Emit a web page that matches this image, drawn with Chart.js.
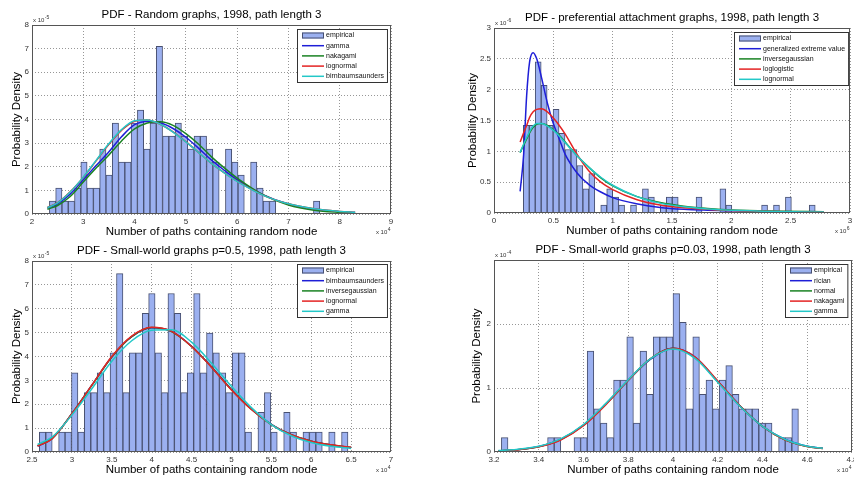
<!DOCTYPE html>
<html>
<head>
<meta charset="utf-8">
<script src="https://cdn.jsdelivr.net/npm/chart.js@4.4.0/dist/chart.umd.min.js"></script>
<style>
  html, body { margin: 0; padding: 0; background: #fff; }
  #wrap { position: relative; width: 854px; height: 479px; overflow: hidden; }
  canvas { position: absolute; }
</style>
</head>
<body>
<div id="wrap">
  <canvas id="c1" width="427" height="240" style="left:0;top:0"></canvas>
  <canvas id="c2" width="427" height="240" style="left:427px;top:0"></canvas>
  <canvas id="c3" width="427" height="239" style="left:0;top:240px"></canvas>
  <canvas id="c4" width="427" height="239" style="left:427px;top:240px"></canvas>
</div>
<script>
// ---- panel 1: random graphs (x in 1e4, density in 1e-5)
const p1BinStart = 2.339, p1BinWidth = 0.1226;
const p1Counts = [0.55, 1.1, 0.55, 0.55, 1.1, 2.2, 1.1, 1.1, 2.75, 1.65, 3.85, 2.2, 2.2, 3.85, 4.4, 2.75,
  3.85, 7.1, 3.3, 3.3, 3.85, 3.3, 2.75, 3.3, 3.3, 2.75, 2.2, 0, 2.75, 2.2, 1.65, 0, 2.2, 1.1, 0.55, 0.55,
  0, 0, 0, 0, 0, 0, 0.55];
const p1CurveX = [2.3, 2.5, 2.75, 3, 3.25, 3.5, 3.75, 4, 4.25, 4.5, 4.75, 5, 5.25, 5.5, 5.75, 6, 6.5, 7, 7.5, 8, 8.3];
const p1Gamma = [0.25, 0.43, 0.85, 1.45, 2.05, 2.64, 3.28, 3.78, 3.92, 3.86, 3.62, 3.25, 2.78, 2.28, 1.85, 1.45, 0.82, 0.42, 0.2, 0.1, 0.06];
const p1Nakagami = [0.2, 0.36, 0.75, 1.35, 1.95, 2.5, 3.1, 3.6, 3.85, 3.9, 3.75, 3.4, 2.95, 2.42, 1.95, 1.52, 0.82, 0.38, 0.16, 0.07, 0.04];
const p1Lognormal = [0.28, 0.48, 0.95, 1.55, 2.25, 2.95, 3.55, 3.93, 3.98, 3.8, 3.48, 3.06, 2.6, 2.14, 1.74, 1.39, 0.8, 0.43, 0.22, 0.11, 0.07];
const p1Birnbaum = [0.27, 0.47, 0.94, 1.56, 2.27, 2.98, 3.58, 3.95, 3.98, 3.8, 3.47, 3.05, 2.6, 2.14, 1.74, 1.38, 0.8, 0.43, 0.22, 0.11, 0.07];

// ---- panel 2: preferential attachment (x in 1e6, density in 1e-6)
const p2BinStart = 0.247, p2BinWidth = 0.0502;
const p2Counts = [1.42, 1.42, 2.45, 2.07, 1.42, 1.68, 1.29, 1.03, 1.03, 0.77, 0.39, 0.64, 0, 0.13, 0.39, 0.26,
  0.13, 0, 0.13, 0, 0.39, 0.26, 0, 0.13, 0.26, 0.26, 0, 0, 0, 0.26, 0, 0, 0, 0.39, 0.13, 0, 0, 0, 0, 0,
  0.13, 0, 0.13, 0, 0.26, 0, 0, 0, 0.13];
const p2CurveX = [0.22, 0.25, 0.275, 0.3, 0.33, 0.36, 0.4, 0.45, 0.5, 0.55, 0.6, 0.7, 0.8, 0.9, 1.0, 1.2, 1.4, 1.6, 1.8, 2.0, 2.4, 2.78];
const p2Gev = [0.35, 0.95, 1.9, 2.45, 2.6, 2.5, 2.2, 1.78, 1.45, 1.2, 0.95, 0.65, 0.46, 0.34, 0.25, 0.15, 0.09, 0.06, 0.045, 0.035, 0.022, 0.015];
const p2InvGauss = [0.98, 1.1, 1.2, 1.3, 1.39, 1.44, 1.45, 1.42, 1.35, 1.26, 1.15, 0.93, 0.74, 0.57, 0.44, 0.27, 0.17, 0.11, 0.075, 0.05, 0.03, 0.02];
const p2LogLogistic = [1.15, 1.3, 1.42, 1.55, 1.64, 1.68, 1.69, 1.64, 1.54, 1.42, 1.28, 0.95, 0.68, 0.5, 0.38, 0.22, 0.13, 0.085, 0.06, 0.04, 0.025, 0.015];
const p2Lognormal = [0.98, 1.12, 1.22, 1.32, 1.41, 1.45, 1.45, 1.41, 1.34, 1.25, 1.14, 0.93, 0.74, 0.58, 0.45, 0.27, 0.16, 0.1, 0.065, 0.045, 0.025, 0.015];

// ---- panel 3: small-world p=0.5 (x in 1e4, density in 1e-5)
const p3BinStart = 2.592, p3BinWidth = 0.0806;
const p3Counts = [0.83, 0.83, 0, 0.83, 0.83, 3.32, 0.83, 2.49, 2.49, 3.32, 2.49, 4.15, 7.47, 2.49, 4.15, 4.15,
  5.81, 6.64, 4.15, 2.49, 6.64, 5.81, 2.49, 3.32, 6.64, 3.32, 4.98, 4.15, 3.32, 2.49, 4.15, 4.15, 0.83, 0,
  1.66, 2.49, 0.83, 0, 1.66, 0.83, 0, 0.83, 0.83, 0.83, 0, 0.83, 0, 0.83];
const p3CurveX = [2.57, 2.75, 3.0, 3.25, 3.5, 3.75, 4.0, 4.25, 4.5, 4.75, 5.0, 5.25, 5.5, 5.75, 6.0, 6.25, 6.5];
const p3Birnbaum = [0.25, 0.56, 1.6, 2.8, 3.98, 4.83, 5.2, 5.05, 4.43, 3.56, 2.62, 1.8, 1.16, 0.72, 0.45, 0.29, 0.19];
const p3InvGauss = [0.26, 0.56, 1.6, 2.79, 3.98, 4.83, 5.21, 5.04, 4.42, 3.56, 2.61, 1.79, 1.15, 0.72, 0.45, 0.29, 0.19];
const p3Lognormal = [0.25, 0.55, 1.6, 2.8, 4.0, 4.85, 5.22, 5.05, 4.42, 3.55, 2.6, 1.78, 1.15, 0.72, 0.45, 0.3, 0.2];
const p3Gamma = [0.32, 0.62, 1.55, 2.65, 3.8, 4.66, 5.1, 5.12, 4.6, 3.72, 2.75, 1.86, 1.15, 0.68, 0.4, 0.24, 0.15];

// ---- panel 4: small-world p=0.03 (x in 1e4, density in 1e-4)
const p4BinStart = 3.233, p4BinWidth = 0.0295;
const p4Counts = [0.225, 0, 0, 0, 0, 0, 0, 0.225, 0.225, 0, 0, 0.225, 0.225, 1.575, 0.675, 0.45, 0.225, 1.125,
  1.125, 1.8, 0.45, 1.575, 0.9, 1.8, 1.8, 1.8, 2.475, 2.025, 0.675, 1.8, 0.9, 1.125, 0.675, 1.125, 1.35, 0.9,
  0.675, 0.675, 0.675, 0.45, 0.45, 0, 0.225, 0.225, 0.675];
const p4CurveX = [3.22, 3.3, 3.4, 3.5, 3.6, 3.7, 3.8, 3.9, 4.0, 4.1, 4.2, 4.3, 4.4, 4.5, 4.6, 4.67];
const p4Rician = [0.02, 0.035, 0.085, 0.2, 0.42, 0.75, 1.12, 1.45, 1.62, 1.48, 1.1, 0.72, 0.4, 0.2, 0.09, 0.06];
const p4Normal = [0.02, 0.034, 0.083, 0.2, 0.42, 0.75, 1.12, 1.46, 1.62, 1.47, 1.1, 0.72, 0.4, 0.19, 0.085, 0.055];
const p4Nakagami = [0.018, 0.032, 0.08, 0.19, 0.41, 0.74, 1.12, 1.46, 1.62, 1.48, 1.11, 0.72, 0.4, 0.19, 0.085, 0.055];
const p4Gamma = [0.025, 0.04, 0.09, 0.21, 0.43, 0.76, 1.13, 1.46, 1.61, 1.46, 1.09, 0.71, 0.4, 0.2, 0.09, 0.06];

const FONT = "'Liberation Sans', Arial, sans-serif";
const BAR_FILL = 'rgb(155,176,240)';
const BAR_EDGE = 'rgb(72,80,112)';
const BLUE = 'rgb(30,30,215)', GREEN = 'rgb(25,130,35)', RED = 'rgb(228,35,35)', CYAN = 'rgb(35,200,200)';
const GRID = 'rgba(140,140,140,0.9)';
const TICK = '#333';

// matlab style tick text: 1 not 1.0
const plain = v => String(Number(Number(v).toFixed(3)));

// superscript "x 10^n" note
function power(ctx, x, y, align, exp) {
  ctx.font = `6px ${FONT}`;
  const w1 = ctx.measureText('x 10').width;
  ctx.font = `5px ${FONT}`;
  const w2 = ctx.measureText(exp).width;
  const x0 = align === 'right' ? x - w1 - w2 - 1 : x;
  ctx.textAlign = 'left';
  ctx.textBaseline = 'alphabetic';
  ctx.fillStyle = '#333';
  ctx.font = `6px ${FONT}`;
  ctx.fillText('x 10', x0, y);
  ctx.font = `5px ${FONT}`;
  ctx.fillText(exp, x0 + w1 + 0.5, y - 3);
}

// box, titles, labels and legend in matlab style
const decor = {
  id: 'decor',
  afterDraw(chart, args, o) {
    const { ctx, chartArea: a } = chart;
    const cx = (a.left + a.right) / 2;
    ctx.save();
    ctx.setLineDash([]);
    ctx.strokeStyle = '#555';
    ctx.lineWidth = 1;
    ctx.strokeRect(Math.round(a.left) + 0.5, Math.round(a.top) + 0.5,
      Math.round(a.right - a.left) - 1, Math.round(a.bottom - a.top) - 1);

    ctx.fillStyle = '#000';
    ctx.textAlign = 'center';
    ctx.textBaseline = 'middle';
    ctx.font = `11.5px ${FONT}`;
    ctx.fillText(o.title, cx, a.top - 10);
    ctx.fillText('Number of paths containing random node', cx, a.bottom + 18);
    ctx.save();
    ctx.translate(a.left - o.ylabelDx, (a.top + a.bottom) / 2);
    ctx.rotate(-Math.PI / 2);
    ctx.fillText('Probability Density', 0, 0);
    ctx.restore();

    power(ctx, a.left + 1, a.top - 3, 'left', o.yExp);
    power(ctx, a.right, a.bottom + 20, 'right', o.xExp);

    // legend
    const items = chart.data.datasets;
    ctx.font = `7px ${FONT}`;
    const tw = Math.max(...items.map(d => ctx.measureText(d.label).width));
    const w = Math.max(o.legend.w, 32 + tw);
    const h = 53;
    const x0 = Math.round(a.right - o.legend.dx - w), y0 = Math.round(a.top + o.legend.dy);
    ctx.fillStyle = '#fff';
    ctx.fillRect(x0, y0, w, h);
    ctx.strokeStyle = '#333';
    ctx.strokeRect(x0 + 0.5, y0 + 0.5, w, h);
    items.forEach((d, i) => {
      const cy = y0 + 6.5 + i * 10.2;
      if (d.type === 'bar') {
        ctx.fillStyle = BAR_FILL;
        ctx.fillRect(x0 + 5, cy - 3, 22, 6);
        ctx.strokeStyle = BAR_EDGE;
        ctx.strokeRect(x0 + 5.5, cy - 2.5, 21, 5);
      } else {
        ctx.strokeStyle = d.borderColor;
        ctx.lineWidth = 1.5;
        ctx.beginPath();
        ctx.moveTo(x0 + 5, cy);
        ctx.lineTo(x0 + 27, cy);
        ctx.stroke();
        ctx.lineWidth = 1;
      }
      ctx.fillStyle = '#111';
      ctx.textAlign = 'left';
      ctx.textBaseline = 'middle';
      ctx.fillText(d.label, x0 + 29, cy);
    });
    ctx.restore();
  }
};

function build(id, p) {
  const datasets = [{
    type: 'bar',
    label: 'empirical',
    data: p.counts.map((v, i) => ({ x: p.binStart + (i + 0.5) * p.binWidth, y: v })),
    backgroundColor: BAR_FILL,
    borderColor: BAR_EDGE,
    borderWidth: 1,
    barPercentage: 1,
    categoryPercentage: 1,
    order: 10
  }];
  p.curves.forEach((c, i) => datasets.push({
    type: 'line',
    label: c.label,
    data: p.curveX.map((x, j) => ({ x: x, y: c.y[j] })),
    borderColor: c.color,
    borderWidth: 1.5,
    pointRadius: 0,
    fill: false,
    cubicInterpolationMode: 'monotone',
    order: 5 - i
  }));

  const tickFont = { size: 8, family: FONT };
  new Chart(document.getElementById(id), {
    type: 'bar',
    data: { datasets },
    options: {
      responsive: false,
      animation: false,
      devicePixelRatio: 1,
      layout: { padding: p.pad },
      plugins: {
        legend: { display: false },
        title: { display: false },
        tooltip: { enabled: false },
        decor: p.decor
      },
      scales: {
        x: {
          type: 'linear',
          min: p.xMin, max: p.xMax,
          offset: false,
          ticks: { stepSize: p.xStep, color: TICK, font: tickFont, padding: 3, maxRotation: 0, autoSkip: false,
            callback: plain },
          grid: { color: GRID, drawTicks: false, offset: false },
          border: { display: false, dash: [1, 2] },
          afterFit: s => { s.height = 20; s.paddingLeft = 0; s.paddingRight = 0; }
        },
        y: {
          type: 'linear',
          min: 0, max: p.yMax,
          ticks: { stepSize: p.yStep, color: TICK, font: tickFont, padding: 3,
            callback: v => (p.yHide !== undefined && v >= p.yHide ? '' : plain(v)) },
          grid: { color: GRID, drawTicks: false },
          border: { display: false, dash: [1, 2] },
          afterFit: s => { s.width = 30; s.paddingTop = 0; s.paddingBottom = 0; }
        }
      }
    },
    plugins: [decor]
  });
}

build('c1', {
  binStart: p1BinStart, binWidth: p1BinWidth, counts: p1Counts, curveX: p1CurveX,
  curves: [
    { label: 'gamma', color: BLUE, y: p1Gamma },
    { label: 'nakagami', color: GREEN, y: p1Nakagami },
    { label: 'lognormal', color: RED, y: p1Lognormal },
    { label: 'birnbaumsaunders', color: CYAN, y: p1Birnbaum }
  ],
  xMin: 2, xMax: 9, xStep: 1, yMax: 8, yStep: 1,
  pad: { left: 2, right: 36, top: 25, bottom: 6 },
  decor: { title: 'PDF - Random graphs, 1998, path length 3', ylabelDx: 15, yExp: '-5', xExp: '4',
    legend: { w: 89, dx: 4, dy: 4 } }
});

build('c2', {
  binStart: p2BinStart, binWidth: p2BinWidth, counts: p2Counts, curveX: p2CurveX,
  curves: [
    { label: 'generalized extreme value', color: BLUE, y: p2Gev },
    { label: 'inversegaussian', color: GREEN, y: p2InvGauss },
    { label: 'loglogistic', color: RED, y: p2LogLogistic },
    { label: 'lognormal', color: CYAN, y: p2Lognormal }
  ],
  xMin: 0, xMax: 3, xStep: 0.5, yMax: 3, yStep: 0.5,
  pad: { left: 37, right: 4, top: 28, bottom: 7 },
  decor: { title: 'PDF - preferential attachment graphs, 1998, path length 3', ylabelDx: 21, yExp: '-6', xExp: '6',
    legend: { w: 113, dx: 2, dy: 4 } }
});

build('c3', {
  binStart: p3BinStart, binWidth: p3BinWidth, counts: p3Counts, curveX: p3CurveX,
  curves: [
    { label: 'birnbaumsaunders', color: BLUE, y: p3Birnbaum },
    { label: 'inversegaussian', color: GREEN, y: p3InvGauss },
    { label: 'lognormal', color: RED, y: p3Lognormal },
    { label: 'gamma', color: CYAN, y: p3Gamma }
  ],
  xMin: 2.5, xMax: 7, xStep: 0.5, yMax: 8, yStep: 1,
  pad: { left: 2, right: 36, top: 21, bottom: 7 },
  decor: { title: 'PDF - Small-world graphs p=0.5, 1998, path length 3', ylabelDx: 15, yExp: '-5', xExp: '4',
    legend: { w: 89, dx: 4, dy: 3 } }
});

build('c4', {
  binStart: p4BinStart, binWidth: p4BinWidth, counts: p4Counts, curveX: p4CurveX,
  curves: [
    { label: 'rician', color: BLUE, y: p4Rician },
    { label: 'normal', color: GREEN, y: p4Normal },
    { label: 'nakagami', color: RED, y: p4Nakagami },
    { label: 'gamma', color: CYAN, y: p4Gamma }
  ],
  xMin: 3.2, xMax: 4.8, xStep: 0.2, yMax: 3, yStep: 1, yHide: 3,
  pad: { left: 37, right: 2, top: 20, bottom: 7 },
  decor: { title: 'PDF - Small-world graphs p=0.03, 1998, path length 3', ylabelDx: 17, yExp: '-4', xExp: '4',
    legend: { w: 61, dx: 5, dy: 4 } }
});
</script>
</body>
</html>
